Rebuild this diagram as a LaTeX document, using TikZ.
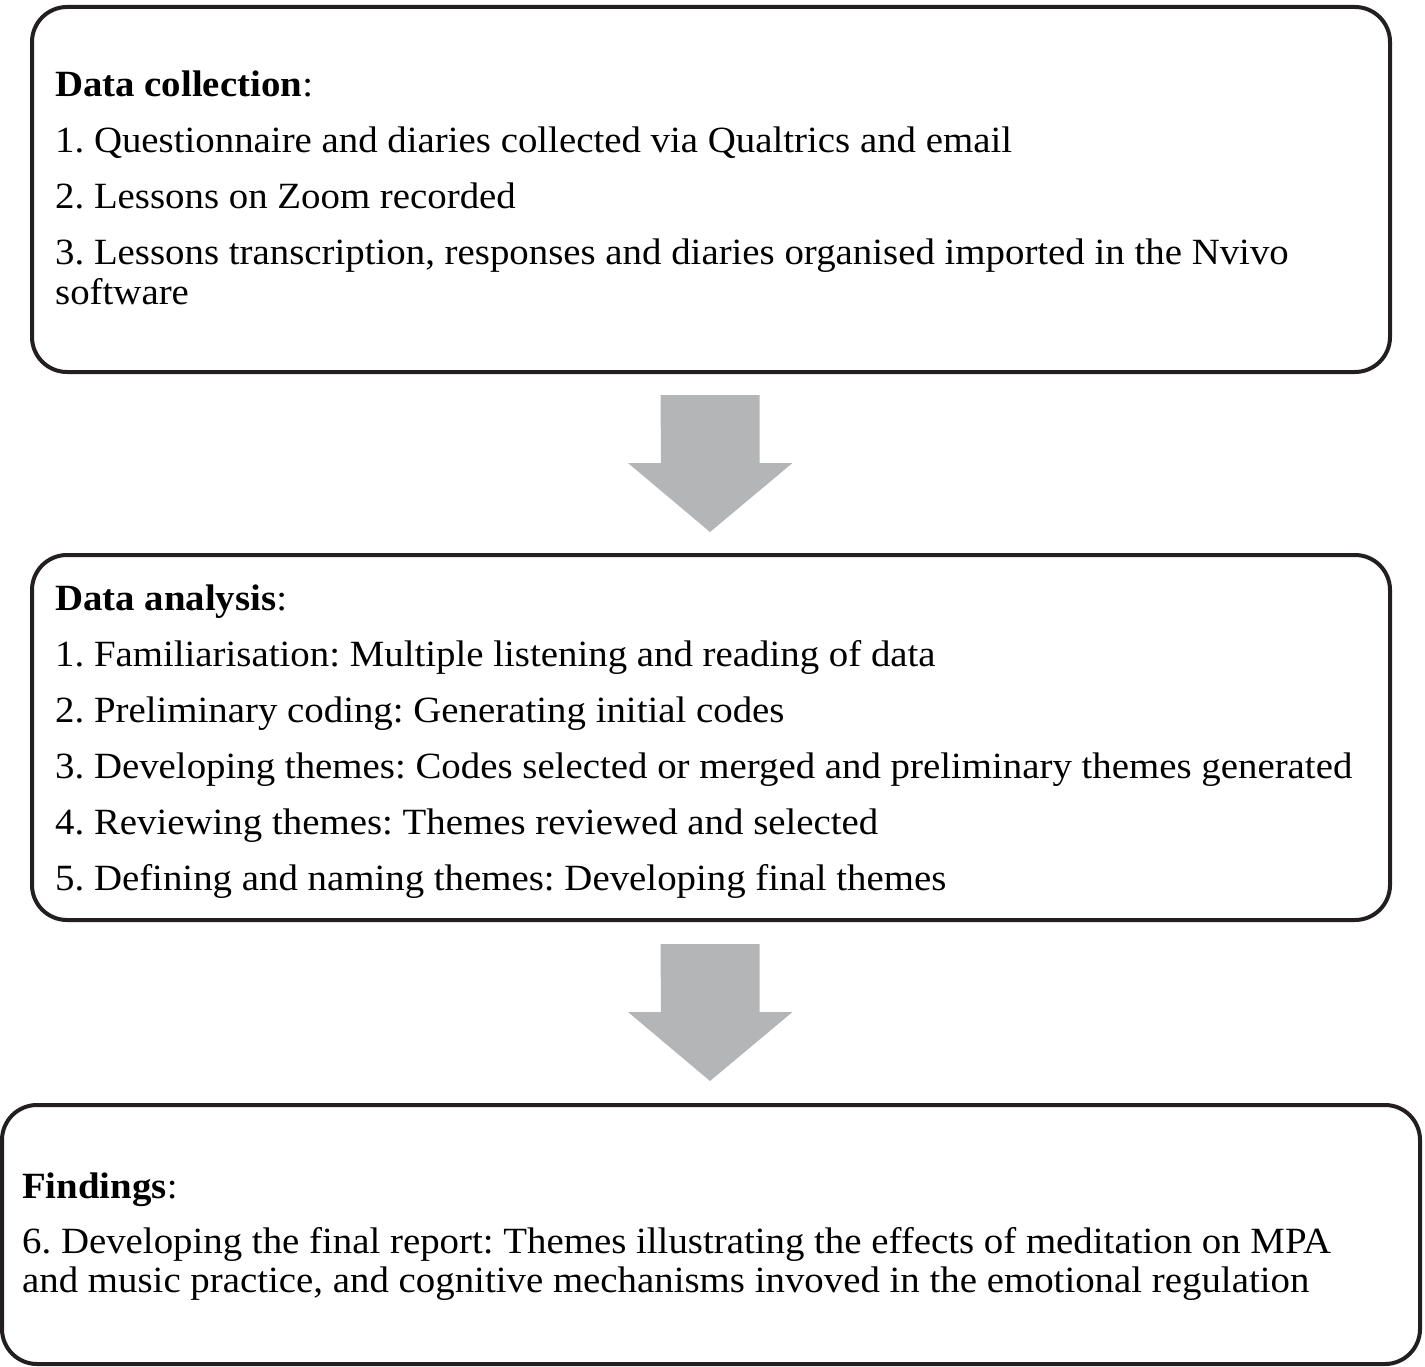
\documentclass[tikz,border=0pt]{standalone}
\usepackage{fontspec}
\setmainfont{Liberation Serif}[FakeStretch=1.05]
\frenchspacing
\definecolor{arrowgray}{RGB}{180,181,183}
\definecolor{boxline}{RGB}{35,31,32}
\begin{document}
\begin{tikzpicture}[x=1pt,y=-1pt,
  panel/.style={draw=boxline,line width=4pt,rounded corners=35pt,inner sep=0pt},
  txt/.style={anchor=base west,inner sep=0pt,font=\fontsize{37}{40}\selectfont,text=black},
  bigarrow/.style={fill=arrowgray,draw=none}]
\useasboundingbox (0,0) rectangle (1425,1367);
% boxes
\node[panel,minimum width=1358pt,minimum height=365pt] (b1) at (711,189.5) {};
\node[panel,minimum width=1358pt,minimum height=365pt] (b2) at (711,737.5) {};
\node[panel,minimum width=1418pt,minimum height=259pt] (b3) at (711,1234.5) {};
% box 1 text
\node[txt] (t10) at (55,97) {\textbf{Data collection}:};
\node[txt] (t11) at (55,153) {1. Questionnaire and diaries collected via Qualtrics and email};
\node[txt] (t12) at (55,209) {2. Lessons on Zoom recorded};
\node[txt] (t13) at (55,265) {3. Lessons transcription, responses and diaries organised imported in the Nvivo};
\node[txt] (t14) at (55,305) {software};
% box 2 text
\node[txt] (t20) at (55,610) {\textbf{Data analysis}:};
\node[txt] (t21) at (55,666) {1. Familiarisation: Multiple listening and reading of data};
\node[txt] (t22) at (55,722) {2. Preliminary coding: Generating initial codes};
\node[txt] (t23) at (55,778) {3. Developing themes: Codes selected or merged and preliminary themes generated};
\node[txt] (t24) at (55,834) {4. Reviewing themes: Themes reviewed and selected};
\node[txt] (t25) at (55,890) {5. Defining and naming themes: Developing final themes};
% box 3 text
\node[txt] (t30) at (22,1198) {\textbf{Findings}:};
\node[txt] (t31) at (22,1253) {6. Developing the final report: Themes illustrating the effects of meditation on MPA};
\node[txt] (t32) at (22,1292) {and music practice, and cognitive mechanisms invoved in the emotional regulation};
% arrows
\coordinate (a1) at (710,395);
\coordinate (a2) at (710,944);
\fill[bigarrow] (a1) ++(-49.5,0) -- ++(99,0) -- ++(0,68) -- ++(33,0) -- (710,532) -- (628,463) -- (661,463) -- cycle;
\fill[bigarrow] (a2) ++(-49.5,0) -- ++(99,0) -- ++(0,68) -- ++(33,0) -- (710,1081) -- (628,1012) -- (661,1012) -- cycle;
\end{tikzpicture}
\end{document}
